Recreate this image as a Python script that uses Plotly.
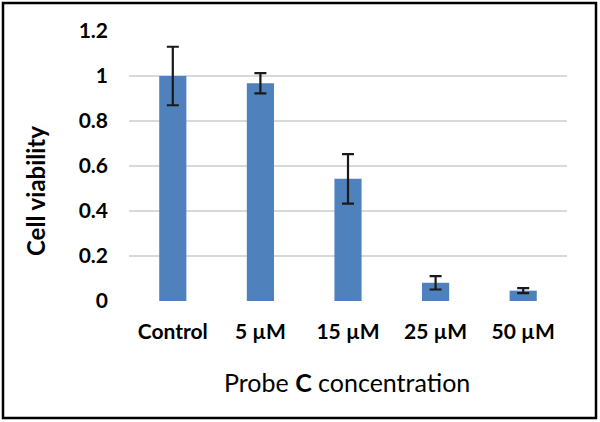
import plotly.graph_objects as go

categories = ["Control", "5 µM", "15 µM", "25 µM", "50 µM"]
viability = [1.0, 0.968, 0.543, 0.081, 0.046]
errors = [0.13, 0.045, 0.11, 0.03, 0.011]
y_ticks = [0, 0.2, 0.4, 0.6, 0.8, 1.0, 1.2]
y_tick_labels = ["0", "0.2", "0.4", "0.6", "0.8", "1", "1.2"]
x_title = "Probe <b>C</b> concentration"
y_title = "<b>Cell viability</b>"

FONT = "Lato"

fig = go.Figure(
    go.Bar(
        x=categories,
        y=viability,
        marker=dict(color="#4f81bd", line=dict(width=0)),
        error_y=dict(type="data", array=errors, visible=True,
                     color="#1a1a1a", thickness=2.2, width=6),
    )
)

fig.update_layout(
    width=600, height=422,
    margin=dict(l=129, r=33, t=31, b=121, autoexpand=False),
    paper_bgcolor="white", plot_bgcolor="white",
    bargap=0.69,
    showlegend=False,
    font=dict(family=FONT, color="black"),
    xaxis=dict(
        automargin=False,
        tickfont=dict(family=FONT, size=21, color="black", weight="bold"),
        showgrid=False, zeroline=False, showline=False,
        ticklabelstandoff=16,
    ),
    yaxis=dict(
        automargin=False,
        range=[0, 1.2],
        tickvals=y_ticks, ticktext=y_tick_labels,
        tickfont=dict(family=FONT, size=21, color="black", weight="bold"),
        showgrid=True, gridcolor="#d9d9d9", gridwidth=2,
        zeroline=False, showline=False,
        ticklabelstandoff=20,
    ),
)

fig.add_annotation(text=x_title, xref="paper", yref="paper",
                   x=(347 - 129) / 438, y=(301 - 382) / 270,
                   xanchor="center", yanchor="middle", showarrow=False,
                   font=dict(family=FONT, size=25, color="black"))
fig.add_annotation(text=y_title, xref="paper", yref="paper",
                   x=(35 - 129) / 438, y=(301 - 191) / 270,
                   xanchor="center", yanchor="middle", showarrow=False,
                   textangle=-90,
                   font=dict(family=FONT, size=24, color="black"))

fig.add_shape(type="rect", xref="paper", yref="paper",
              x0=(3 - 129) / 438, x1=(596 - 129) / 438,
              y0=(301 - 418) / 270, y1=(301 - 3) / 270,
              line=dict(color="black", width=2.5), fillcolor="rgba(0,0,0,0)",
              layer="above")

fig.write_html("out.html",
               config={"displayModeBar": False},
               post_script="document.body.style.margin='0';document.body.style.overflow='hidden';")
